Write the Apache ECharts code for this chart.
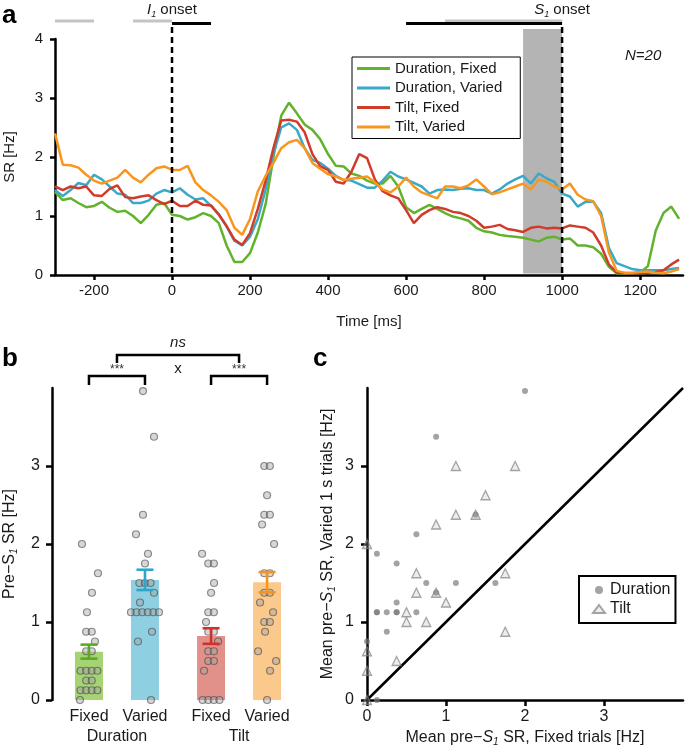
<!DOCTYPE html>
<html><head><meta charset="utf-8">
<script src="https://cdn.jsdelivr.net/npm/echarts@6/dist/echarts.min.js"></script>
<style>html,body{margin:0;padding:0;background:#fff}#c{width:685px;height:750px}</style>
</head><body><div id="c"></div>
<script>
// ---------- Panel a: spike rate time courses ----------
const timeMs = [-300,-280,-260,-240,-220,-200,-180,-160,-140,-120,
  -100,-80,-60,-40,-20,0,20,40,60,80,
  100,120,140,160,180,200,220,240,260,280,
  300,320,340,360,380,400,420,440,460,480,
  500,520,540,560,580,600,620,640,660,680,
  700,720,740,760,780,800,820,840,860,880,
  900,920,940,960,980,1000,1020,1040,1060,1080,
  1100,1120,1140,1160,1180,1200,1220,1240,1260,1280,1300];
const durFixedSR = [1.41,1.27,1.30,1.22,1.15,1.17,1.24,1.14,1.07,1.09,
  1.00,0.88,1.02,1.19,1.22,1.02,1.00,0.94,0.98,1.05,
  1.00,0.88,0.50,0.22,0.22,0.37,0.72,1.20,2.00,2.70,
  2.92,2.74,2.55,2.46,2.30,2.05,1.85,1.84,1.72,1.68,
  1.60,1.55,1.55,1.68,1.50,1.15,1.05,1.12,1.19,1.12,
  1.05,0.99,0.96,0.92,0.80,0.74,0.72,0.68,0.66,0.65,
  0.63,0.60,0.57,0.63,0.65,0.60,0.62,0.50,0.50,0.47,
  0.36,0.14,0.03,0.02,0.03,0.04,0.15,0.75,1.05,1.16,0.95];
const durVariedSR = [1.44,1.34,1.44,1.56,1.52,1.70,1.62,1.50,1.38,1.36,
  1.22,1.22,1.26,1.38,1.44,1.40,1.47,1.36,1.28,1.30,
  1.17,1.03,0.82,0.58,0.50,0.65,0.95,1.45,2.05,2.50,
  2.57,2.46,2.15,1.95,1.90,1.80,1.68,1.61,1.60,1.54,
  1.48,1.48,1.60,1.75,1.67,1.62,1.56,1.50,1.38,1.44,
  1.45,1.44,1.46,1.47,1.44,1.44,1.38,1.45,1.55,1.62,
  1.68,1.55,1.72,1.64,1.58,1.38,1.33,1.16,1.24,1.24,
  1.05,0.46,0.20,0.15,0.10,0.08,0.08,0.08,0.08,0.10,0.12];
const tiltFixedSR = [1.50,1.44,1.50,1.47,1.50,1.35,1.34,1.46,1.52,1.32,
  1.30,1.33,1.35,1.27,1.20,1.26,1.17,1.17,1.26,1.19,
  1.18,1.02,0.83,0.60,0.51,0.71,1.12,1.60,2.15,2.62,
  2.63,2.60,2.42,2.05,1.84,1.78,1.58,1.55,1.75,2.05,
  1.98,1.62,1.42,1.35,1.30,1.10,0.88,1.02,1.10,1.15,
  1.12,1.07,1.05,1.00,0.92,0.80,0.82,0.85,0.78,0.76,
  0.73,0.80,0.82,0.79,0.80,0.79,0.84,0.82,0.80,0.72,
  0.50,0.18,0.04,0.03,0.03,0.03,0.04,0.05,0.08,0.18,0.26];
const tiltVariedSR = [2.40,1.87,1.86,1.82,1.70,1.60,1.55,1.60,1.65,1.78,
  1.65,1.57,1.70,1.81,1.84,1.78,1.78,1.85,1.57,1.44,
  1.35,1.24,1.10,0.80,0.68,0.95,1.42,1.68,1.90,2.15,
  2.25,2.29,2.15,1.90,1.80,1.71,1.67,1.61,1.63,1.65,
  1.67,1.57,1.45,1.40,1.50,1.65,1.50,1.40,1.35,1.30,
  1.50,1.50,1.47,1.52,1.62,1.50,1.37,1.40,1.45,1.50,
  1.55,1.45,1.62,1.58,1.50,1.45,1.55,1.36,1.28,1.25,
  1.00,0.38,0.07,0.04,0.04,0.05,0.06,0.04,0.03,0.06,0.10];
const seriesNames = ['Duration, Fixed','Duration, Varied','Tilt, Fixed','Tilt, Varied'];
const timeTicks = [-200,0,200,400,600,800,1000,1200];
const srTicks = [0,1,2,3,4];
const onsetTimes = [0, 1000];
const shadeRange = [900, 1000];
const epochGray = [[-300,-200],[-100,0],[700,1000]];
const epochBlack = [[0,100],[600,1000]];

// ---------- Panel b / c: per-subject pre-S1 spike rates ----------
const barCategories = ['Fixed','Varied','Fixed','Varied'];
const groupNames = ['Duration','Tilt'];
const barMeans = [0.62,1.54,0.82,1.51];
const barSEM = [0.09,0.13,0.10,0.13];
const durFixedTrial  = [2.0,0.875,0.625,0.125,0.375,0.75,1.125,1.625,0.375,0.125,0.25,0.375,0.625,0.25,0,0.125,1.375,0.875,0.125,0.375];
const durVariedTrial = [3.96,3.375,2.125,1.875,1.75,1.5,1.5,1.5,1.25,1.125,1.125,1.125,1.125,0.875,0.75,0,2.375,1.375,1.125,1.125];
const tiltFixedTrial  = [1.125,1.875,1.5,1.125,1.375,0.875,0,0.625,1.75,0.625,0.875,1.0,0.5,0.5,0.75,1.75,0.375,0,0,0];
const tiltVariedTrial = [3.0,3.0,2.625,2.375,2.375,2.25,2.0,1.625,1.625,1.375,1.375,1.25,1.125,1.0,1.0,0.875,0.5,0.625,0.375,0];
const rateTicks = [0,1,2,3];

// ---------- styling ----------
const FONT = "'Liberation Sans', Arial, Helvetica, sans-serif";
const lineColors = ['#62b22c','#3aa8c9','#d13b29','#f8961e'];
const barFill = ['#a6d374','#8fcfe2','#e2908a','#fbc98c'];
const errColors = ['#5aab1f','#2ea5cc','#d0322a','#f7941d'];
const TXT = '#1a1a1a';

const bMin = 0.34, bMax = 4.6, bLeft = 52, bWidth = 238.6;
const barPos = barCategories.map((_, i) => 1 + i + (i >= 2 ? 0.18 : 0));
const groupPos = [ (barPos[0]+barPos[1])/2, (barPos[2]+barPos[3])/2 ];
const pxPerUnitB = bWidth / (bMax - bMin);

const chart = echarts.init(document.getElementById('c'), null, {renderer:'canvas'});

function axisBase(fs) {
  return {
    axisLine:{show:true,onZero:false,lineStyle:{color:'#000',width:2.5}},
    axisTick:{show:true,length:5,lineStyle:{color:'#000',width:2.5}},
    splitLine:{show:false},
    axisLabel:{color:TXT,fontSize:fs,fontFamily:FONT}
  };
}
const plain = (v) => String(v);
const subRich = {
  it:{fontStyle:'italic',fontSize:16,fontFamily:FONT,color:TXT},
  sub:{fontStyle:'italic',fontSize:10,fontFamily:FONT,color:TXT,verticalAlign:'bottom'}
};

// jittered subject points for panel b
const trialGroups = [durFixedTrial, durVariedTrial, tiltFixedTrial, tiltVariedTrial];
const singlePattern = [-7, 6, -2, 9, -9, 3, 0, -5, 7];
const bPoints = [];
trialGroups.forEach((vals, g) => {
  const counts = {}; vals.forEach(v => counts[v] = (counts[v]||0) + 1);
  const seen = {}; let single = 0;
  vals.forEach(v => {
    const n = counts[v]; const k = seen[v] || 0; seen[v] = k + 1;
    let off;
    if (n > 1) off = (k - (n-1)/2) * 5.6;
    else { off = singlePattern[(single + g*2) % singlePattern.length]; single++; }
    bPoints.push([barPos[g] + off / pxPerUnitB, v]);
  });
});

const srSeries = [durFixedSR, durVariedSR, tiltFixedSR, tiltVariedSR];

const gridCommon = {containLabel:false, outerBoundsMode:'none'};
const option = {
  animation:false,
  textStyle:{fontFamily:FONT},
  grid:[
    Object.assign({left:55, top:39, width:628, height:236}, gridCommon),
    Object.assign({left:bLeft, top:388, width:bWidth, height:312}, gridCommon),
    Object.assign({left:367, top:388, width:316, height:312}, gridCommon)
  ],
  legend:[
    {data:seriesNames, orient:'vertical', left:352, top:57, icon:'rect', itemWidth:33, itemHeight:3,
     itemGap:2.5, padding:[3,18,3,5], borderColor:'#000', borderWidth:1, selectedMode:false,
     textStyle:{fontSize:15, fontFamily:FONT, color:TXT, lineHeight:17}},
    {data:['Duration','Tilt'], orient:'vertical', left:579, top:576, itemWidth:12, itemHeight:8,
     itemGap:1, padding:[5,5,5,13], borderColor:'#000', borderWidth:2, selectedMode:false,
     textStyle:{fontSize:16, fontFamily:FONT, color:TXT, lineHeight:18}}
  ],
  xAxis:[
    Object.assign(axisBase(15), {gridIndex:0, type:'value', min:-300, max:1310,
      name:'Time [ms]', nameLocation:'middle', nameGap:39,
      nameTextStyle:{fontSize:15, color:TXT, fontFamily:FONT},
      axisTick:{show:true,length:5,customValues:timeTicks,lineStyle:{color:'#000',width:2.5}},
      axisLabel:{customValues:timeTicks,color:TXT,fontSize:15,fontFamily:FONT,margin:8,formatter:plain}}),
    {gridIndex:1, type:'value', min:bMin, max:bMax, position:'bottom',
      axisLine:{show:false}, axisTick:{show:false}, splitLine:{show:false},
      axisLabel:{customValues:barPos, margin:9, color:TXT, fontSize:16, fontFamily:FONT,
        formatter:(v)=>{const i = barPos.findIndex(p=>Math.abs(p-v)<1e-6); return i>=0?barCategories[i]:'';}}},
    {gridIndex:1, type:'value', min:bMin, max:bMax, position:'bottom',
      axisLine:{show:false}, axisTick:{show:false}, splitLine:{show:false},
      axisLabel:{customValues:groupPos, margin:29, color:TXT, fontSize:16, fontFamily:FONT,
        formatter:(v)=>{const i = groupPos.findIndex(p=>Math.abs(p-v)<1e-6); return i>=0?groupNames[i]:'';}}},
    Object.assign(axisBase(16), {gridIndex:2, type:'value', min:0, max:4,
      name:'Mean pre\u2212{it|S}{sub|1} SR, Fixed trials [Hz]', nameLocation:'middle', nameGap:29,
      nameTextStyle:{fontSize:16, color:TXT, fontFamily:FONT, lineHeight:18, rich:subRich},
      axisTick:{show:true,length:6,customValues:rateTicks,lineStyle:{color:'#000',width:2.5}},
      axisLabel:{customValues:rateTicks,color:TXT,fontSize:16,fontFamily:FONT,margin:9,formatter:plain}})
  ],
  yAxis:[
    Object.assign(axisBase(15), {gridIndex:0, type:'value', min:0, max:4,
      name:'SR [Hz]', nameLocation:'middle', nameGap:38,
      nameTextStyle:{fontSize:15, color:TXT, fontFamily:FONT},
      axisTick:{show:true,length:5,customValues:srTicks,lineStyle:{color:'#000',width:2.5}},
      axisLabel:{customValues:srTicks,color:TXT,fontSize:15,fontFamily:FONT,margin:12,formatter:plain}}),
    Object.assign(axisBase(16), {gridIndex:1, type:'value', min:0, max:4,
      name:'Pre\u2212S{sub|1} SR [Hz]', nameLocation:'middle', nameGap:33,
      nameTextStyle:{fontSize:16, color:TXT, fontFamily:FONT, lineHeight:18, rich:subRich},
      axisTick:{show:true,length:6,customValues:rateTicks,lineStyle:{color:'#000',width:2.5}},
      axisLabel:{customValues:rateTicks,color:TXT,fontSize:16,fontFamily:FONT,margin:12,formatter:plain}}),
    Object.assign(axisBase(16), {gridIndex:2, type:'value', min:0, max:4,
      name:'Mean pre\u2212{it|S}{sub|1} SR, Varied 1 s trials [Hz]', nameLocation:'middle', nameGap:30,
      nameTextStyle:{fontSize:16, color:TXT, fontFamily:FONT, lineHeight:18, rich:subRich},
      axisTick:{show:true,length:6,customValues:rateTicks,lineStyle:{color:'#000',width:2.5}},
      axisLabel:{customValues:rateTicks,color:TXT,fontSize:16,fontFamily:FONT,margin:13,formatter:plain}})
  ],
  series:[
    ...srSeries.map((arr,i)=>({
      type:'line', name:seriesNames[i], xAxisIndex:0, yAxisIndex:0,
      data: timeMs.map((t,k)=>[t, arr[k]]), showSymbol:false, symbol:'none',
      lineStyle:{width:2.5,color:lineColors[i]}, itemStyle:{color:lineColors[i]},
      silent:true, z:3
    })),
    {type:'bar', name:'means', xAxisIndex:1, yAxisIndex:1, barWidth:28, z:2, silent:true,
      data: barMeans.map((m,i)=>({value:[barPos[i], m], itemStyle:{color:barFill[i]}}))},
    {type:'scatter', name:'subjects', xAxisIndex:1, yAxisIndex:1, z:4, silent:true,
      symbol:'circle', symbolSize:7,
      itemStyle:{color:'rgba(165,165,165,0.55)', borderColor:'rgba(70,70,70,0.75)', borderWidth:1.2},
      data: bPoints},
    {type:'custom', name:'sem', xAxisIndex:1, yAxisIndex:1, z:6, silent:true,
      data: barMeans.map((m,i)=>[barPos[i], m - barSEM[i], m + barSEM[i], i]),
      renderItem:(params, api)=>{
        const x = api.value(0);
        const lo = api.coord([x, api.value(1)]);
        const hi = api.coord([x, api.value(2)]);
        const c = errColors[api.value(3)];
        const hw = 8.5;
        const st = {stroke:c, lineWidth:2.6};
        return {type:'group', children:[
          {type:'line', shape:{x1:lo[0],y1:lo[1],x2:hi[0],y2:hi[1]}, style:st},
          {type:'line', shape:{x1:lo[0]-hw,y1:lo[1],x2:lo[0]+hw,y2:lo[1]}, style:st},
          {type:'line', shape:{x1:hi[0]-hw,y1:hi[1],x2:hi[0]+hw,y2:hi[1]}, style:st}
        ]};
      }},
    {type:'line', name:'identity', xAxisIndex:3, yAxisIndex:2, data:[[0,0],[4,4]],
      showSymbol:false, symbol:'none', lineStyle:{color:'#000',width:2.5}, silent:true, z:2},
    {type:'scatter', name:'Tilt', xAxisIndex:3, yAxisIndex:2, symbol:'triangle', symbolSize:9, z:4, silent:true,
      itemStyle:{color:'rgba(190,190,190,0.35)', borderColor:'rgba(125,125,125,0.85)', borderWidth:1.3},
      data: tiltFixedTrial.map((v,i)=>[v, tiltVariedTrial[i]])},
    {type:'scatter', name:'Duration', xAxisIndex:3, yAxisIndex:2, symbol:'circle', symbolSize:6, z:5, silent:true,
      itemStyle:{color:'rgba(120,120,120,0.85)'},
      data: durFixedTrial.map((v,i)=>[v, durVariedTrial[i]])}
  ]
};
chart.setOption(option);

// ---------- annotations positioned through the axes ----------
const P = (g, x, y) => chart.convertToPixel({gridIndex:g}, [x, y]);
const g = [];
const aTop = P(0, 0, 4)[1];
const aBase = P(0, 0, 0)[1];
const shadeTop = aTop - 10;
const sx0 = P(0, shadeRange[0], 0)[0], sx1 = P(0, shadeRange[1], 0)[0];
g.push({type:'rect', z:1, silent:true, shape:{x:sx0, y:shadeTop, width:sx1-sx0, height:aBase-shadeTop-1.5},
  style:{fill:'#b4b4b4'}});
onsetTimes.forEach(t => {
  const x = P(0, t, 0)[0];
  g.push({type:'line', z:50, silent:true, shape:{x1:x, y1:shadeTop-2, x2:x, y2:aBase},
    style:{stroke:'#000', lineWidth:2.5, lineDash:[6,4]}});
});
epochGray.forEach(([t0,t1]) => {
  g.push({type:'line', z:50, silent:true, shape:{x1:P(0,t0,0)[0], y1:aTop-18, x2:P(0,t1,0)[0], y2:aTop-18},
    style:{stroke:'#c4c4c4', lineWidth:3}});
});
epochBlack.forEach(([t0,t1]) => {
  g.push({type:'line', z:51, silent:true, shape:{x1:P(0,t0,0)[0], y1:aTop-15.5, x2:P(0,t1,0)[0], y2:aTop-15.5},
    style:{stroke:'#000', lineWidth:3}});
});
const onsetRich = {
  it:{fontStyle:'italic',fontSize:15,fontFamily:FONT,fill:TXT,lineHeight:18},
  sub:{fontStyle:'italic',fontSize:9,fontFamily:FONT,fill:TXT,verticalAlign:'bottom',lineHeight:14},
  n:{fontSize:15,fontFamily:FONT,fill:TXT,lineHeight:18}
};
g.push({type:'text', z:60, silent:true, x:P(0,onsetTimes[0],0)[0], y:aTop-29,
  style:{text:'{it|I}{sub|1}{n| onset}', rich:onsetRich, align:'center', verticalAlign:'middle'}});
g.push({type:'text', z:60, silent:true, x:P(0,onsetTimes[1],0)[0], y:aTop-29,
  style:{text:'{it|S}{sub|1}{n| onset}', rich:onsetRich, align:'center', verticalAlign:'middle'}});
g.push({type:'text', z:60, silent:true, x:625, y:56,
  style:{text:'N=20', fontSize:15, fontStyle:'italic', fontFamily:FONT, fill:TXT, align:'left', verticalAlign:'middle'}});
// panel letters
[['a',2,16],['b',2,359],['c',313,359]].forEach(([t,x,y]) => {
  g.push({type:'text', z:60, silent:true, x, y,
    style:{text:t, fontSize:26, fontWeight:'bold', fontFamily:FONT, fill:'#000', align:'left', verticalAlign:'middle'}});
});
// significance brackets (panel b)
const bTop = P(1, 0, 4)[1];
function bracket(xa, xb, yTop, leg) {
  const x1 = P(1, xa, 0)[0], x2 = P(1, xb, 0)[0];
  g.push({type:'polyline', z:60, silent:true, shape:{points:[[x1,yTop+leg],[x1,yTop],[x2,yTop],[x2,yTop+leg]]},
    style:{stroke:'#000', lineWidth:2.5, fill:null}});
}
bracket(barPos[0], barPos[1], bTop-12, 9);
bracket(barPos[2], barPos[3], bTop-12, 9);
bracket(groupPos[0], groupPos[1], bTop-33, 8);
const starY = bTop - 19;
[groupPos[0], groupPos[1]].forEach(p => {
  g.push({type:'text', z:60, silent:true, x:P(1,p,0)[0], y:starY+1,
    style:{text:'***', fontSize:12, fontFamily:FONT, fill:'#333', align:'center', verticalAlign:'middle'}});
});
const midX = P(1, (groupPos[0]+groupPos[1])/2, 0)[0];
g.push({type:'text', z:60, silent:true, x:midX, y:starY,
  style:{text:'x', fontSize:15, fontFamily:FONT, fill:TXT, align:'center', verticalAlign:'middle'}});
g.push({type:'text', z:60, silent:true, x:midX, y:bTop-45,
  style:{text:'ns', fontSize:15, fontStyle:'italic', fontFamily:FONT, fill:TXT, align:'center', verticalAlign:'middle'}});

chart.setOption({graphic:{elements:g}});
</script>
</body></html>
